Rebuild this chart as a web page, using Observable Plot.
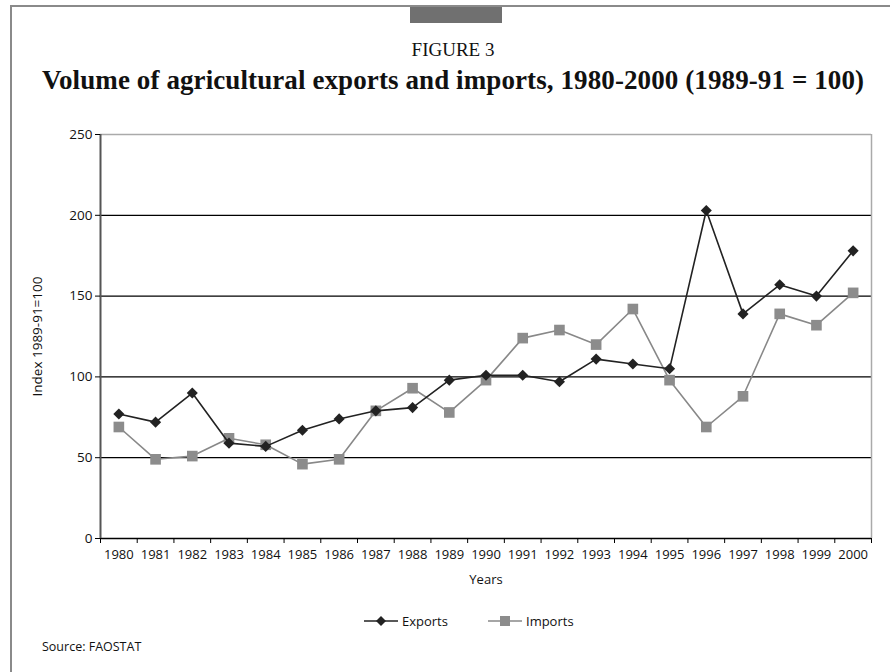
<!DOCTYPE html>
<html>
<head>
<meta charset="utf-8">
<script src="https://cdn.jsdelivr.net/npm/d3@7"></script>
<script src="https://cdn.jsdelivr.net/npm/@observablehq/plot@0.6"></script>
<style>
  html, body { margin: 0; padding: 0; background: #fff; }
  #page { position: relative; width: 890px; height: 672px; overflow: hidden; font-family: "Open Sans", sans-serif; }
  .frame { position: absolute; background: #8a8a8a; }
  .t { position: absolute; left: 0; width: 906px; text-align: center; font-family: "Liberation Serif", serif; color: #111; white-space: nowrap; }
  #chart { position: absolute; left: 0; top: 120px; }
  #legend { position: absolute; top: 612px; left: 0; width: 890px; font-size: 13px; color: #111; }
  .item { position: absolute; top: 0; display: flex; align-items: center; gap: 4px; }
  #source { position: absolute; left: 42px; top: 638px; font-size: 12.5px; color: #111; }
</style>
</head>
<body>
<div id="page">
  <div class="frame" style="left:10px; top:5px; width:880px; height:2px;"></div>
  <div class="frame" style="left:10px; top:5px; width:2px; height:667px;"></div>
  <div class="frame" style="left:410px; top:7px; width:92px; height:16px; background:#707070;"></div>
  <div class="t" style="top:39px; font-size:19px;">FIGURE 3</div>
  <div class="t" style="top:65px; font-size:27px; font-weight:bold; letter-spacing:0.1px;">Volume of agricultural exports and imports, 1980-2000 (1989-91 = 100)</div>
  <div id="chart"></div>
  <div id="legend">
    <div class="item" style="left:364px;">
      <svg width="34" height="12"><line x1="0" y1="6" x2="34" y2="6" stroke="#222" stroke-width="1.5"/><path d="M17,1 L22,6 L17,11 L12,6 Z" fill="#222"/></svg>
      <span>Exports</span>
    </div>
    <div class="item" style="left:488px;">
      <svg width="34" height="12"><line x1="0" y1="6" x2="34" y2="6" stroke="#888" stroke-width="1.5"/><rect x="12" y="1" width="10" height="10" fill="#8c8c8c"/></svg>
      <span>Imports</span>
    </div>
  </div>
  <div id="source">Source: FAOSTAT</div>
</div>
<script>
const years = [1980,1981,1982,1983,1984,1985,1986,1987,1988,1989,1990,1991,1992,1993,1994,1995,1996,1997,1998,1999,2000];
const exportsIdx = [77,72,90,59,57,67,74,79,81,98,101,101,97,111,108,105,203,139,157,150,178];
const importsIdx = [69,49,51,62,58,46,49,79,93,78,98,124,129,120,142,98,69,88,139,132,152];
const yTicks = [0,50,100,150,200,250];
const gridLines = [50,100,150,200];
const yLabel = "Index 1989-91=100";
const xLabel = "Years";

const exportsData = years.map((y, i) => ({year: y, value: exportsIdx[i]}));
const importsData = years.map((y, i) => ({year: y, value: importsIdx[i]}));
const bandEdges = [...years.map(y => y - 0.5), years[years.length - 1] + 0.5];
const xMin = bandEdges[0], xMax = bandEdges[bandEdges.length - 1];

const chart = Plot.plot({
  width: 890,
  height: 480,
  marginLeft: 100,
  marginRight: 19,
  marginTop: 14,
  marginBottom: 62,
  style: {fontFamily: "'Open Sans', sans-serif", fontSize: "13px", color: "#111", background: "transparent"},
  x: {type: "linear", domain: [xMin, xMax]},
  y: {domain: [0, 250]},
  marks: [
    Plot.ruleY(gridLines, {stroke: "#000", strokeWidth: 1.2}),
    Plot.ruleY([250], {stroke: "#aaa", strokeWidth: 1.5}),
    Plot.ruleX([xMax], {stroke: "#aaa", strokeWidth: 1.5}),
    Plot.ruleY([0], {stroke: "#000", strokeWidth: 1.5}),
    Plot.ruleX([xMin], {stroke: "#555", strokeWidth: 2}),
    Plot.axisY({ticks: yTicks, tickSize: 5, tickPadding: 3, stroke: "#000", label: yLabel, labelAnchor: "center", labelArrow: "none", labelOffset: 68, fontSize: 13.5}),
    Plot.axisX({ticks: bandEdges, tickSize: 5, tickFormat: () => "", stroke: "#000", label: null}),
    Plot.axisX({ticks: years, tickSize: 0, tickPadding: 11, tickFormat: d => String(d), label: xLabel, labelAnchor: "center", labelArrow: "none", labelOffset: 45, fontSize: 13}),
    Plot.line(importsData, {x: "year", y: "value", stroke: "#888", strokeWidth: 1.6}),
    Plot.dot(importsData, {x: "year", y: "value", symbol: "square", r: 6, fill: "#8c8c8c", stroke: "none"}),
    Plot.line(exportsData, {x: "year", y: "value", stroke: "#222", strokeWidth: 1.6}),
    Plot.dot(exportsData, {x: "year", y: "value", symbol: "diamond2", r: 5, fill: "#222", stroke: "none"})
  ]
});
document.getElementById("chart").appendChild(chart);
</script>
</body>
</html>
